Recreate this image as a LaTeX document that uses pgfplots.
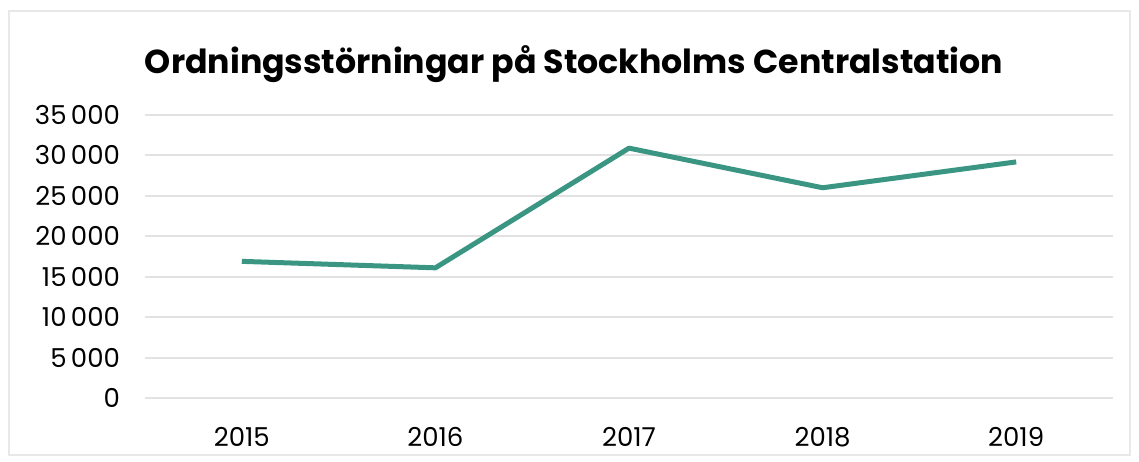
\documentclass[border=0pt]{standalone}
\usepackage{fontspec}
\setmainfont{Poppins}
\usepackage{pgfplots}
\pgfplotsset{compat=1.18}
\definecolor{linjeteal}{RGB}{58,150,130}
\definecolor{rutnat}{RGB}{226,226,226}
\begin{document}
\begin{tikzpicture}
  \path[use as bounding box] (-72.5pt,-31.5pt) rectangle (497pt,199pt);
  \draw[rutnat!80,line width=1pt] (-68pt,-28.5pt) rectangle (492.5pt,193.5pt);
  \begin{axis}[
    at={(0,0)}, anchor=south west,
    scale only axis,
    width=484pt, height=141.5pt,
    xmin=-0.5, xmax=4.5,
    ymin=0, ymax=35000,
    axis line style={draw=none},
    ytick={0,5000,...,35000},
    xtick={0,1,2,3,4},
    xticklabels={2015,2016,2017,2018,2019},
    ymajorgrids,
    grid style={rutnat, line width=1pt},
    major tick length=0pt,
    /pgf/number format/assume math mode=true,
    /pgf/number format/1000 sep={\,},
    scaled y ticks=false,
    tick label style={font=\fontsize{13}{15}\selectfont},
    yticklabel style={xshift=-9pt},
    xticklabel style={yshift=-11pt},
    clip=false,
  ]
  \addplot[linjeteal, line width=2.5pt, line join=round] coordinates {
    (0,16900) (1,16100) (2,30900) (3,26000) (4,29200)
  };
  \end{axis}
  \node[font=\bfseries\fontsize{16.6}{20}\selectfont] at (214.5pt,167pt) {Ordningsstörningar på Stockholms Centralstation};
\end{tikzpicture}
\end{document}
